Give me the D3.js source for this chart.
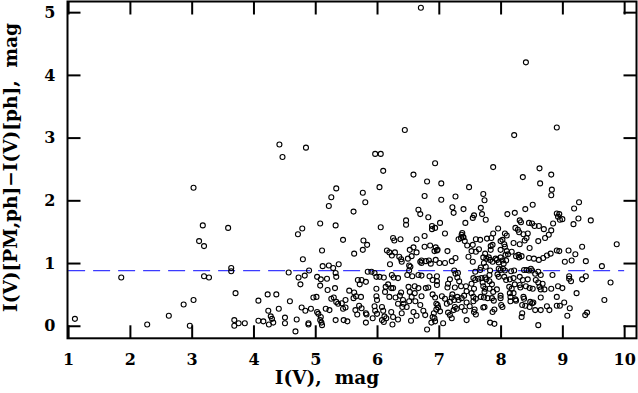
<!DOCTYPE html>
<html><head><meta charset="utf-8">
<script src="https://cdn.jsdelivr.net/npm/d3@7"></script>
<style>body{margin:0;background:#fff}svg{display:block}</style>
</head><body>
<script>
// ---- data (I(V) mag, delta mag) ----
const ptsBright = [[1.11,0.11],[1.86,0.77],[2.28,0.02],[2.63,0.16],[2.87,0.34],[2.97,0.0],[3.03,0.41],[3.03,2.20],[3.18,1.60],[3.12,1.35],[3.20,1.27],[3.20,0.79],[3.28,0.77],[3.59,1.56],[3.64,0.92],[3.64,0.87],[3.71,0.52],[3.69,0.09],[3.69,0.0],[3.76,0.04],[3.86,0.04]];
const ptsMag4to5 = [[5.26,2.05],[5.22,1.91],[5.08,1.63],[4.72,1.46],[4.79,1.55],[4.80,1.06],[5.11,1.20],[4.57,0.85],[4.73,0.77],[4.83,0.80],[4.76,0.66],[4.90,0.88],[5.03,0.78],[5.09,0.74],[5.12,0.95],[5.22,0.96],[5.08,0.64],[5.19,0.75],[4.08,0.40],[4.23,0.50],[4.37,0.50],[4.24,0.24],[4.41,0.27],[4.59,0.39],[4.08,0.08],[4.16,0.07],[4.28,0.15],[4.30,0.11],[4.25,0.02],[4.32,0.05],[4.51,0.13],[4.51,0.04],[4.70,0.10],[4.68,-0.09],[4.78,0.29],[4.84,0.24],[4.93,0.27],[4.89,0.04],[4.89,0.02],[4.97,0.45],[5.02,0.46],[5.05,0.19],[5.03,0.22],[5.08,0.09],[5.11,0.01],[5.10,0.05],[5.20,0.57],[5.26,0.43],[5.17,0.27],[5.09,0.14],[5.23,0.25]];
const ptsMag5to6 = [[6.10,2.47],[5.34,2.19],[5.77,2.12],[6.04,2.21],[5.81,1.97],[5.62,1.82],[5.33,1.60],[6.06,1.57],[5.45,1.37],[5.78,1.36],[5.84,1.29],[5.77,1.21],[5.63,1.15],[6.26,1.40],[6.28,1.36],[6.38,1.38],[6.16,1.20],[6.20,1.17],[6.29,1.17],[6.24,1.12],[6.36,1.10],[6.39,1.06],[6.40,1.02],[6.21,0.98],[5.38,0.98],[5.29,0.92],[5.33,0.84],[5.34,0.78],[5.85,0.86],[5.91,0.86],[5.96,0.84],[5.99,0.78],[5.69,0.73],[5.75,0.73],[5.72,0.66],[5.82,0.70],[6.04,0.78],[6.11,0.77],[6.24,0.81],[6.27,0.77],[6.34,0.76],[6.14,0.62],[6.18,0.66],[6.23,0.60],[6.26,0.60],[6.13,0.54],[5.99,0.59],[5.99,0.47],[6.00,0.41],[6.20,0.46],[6.30,0.45],[6.37,0.48],[6.39,0.53],[6.42,0.41],[5.32,0.60],[5.55,0.56],[5.63,0.53],[5.30,0.45],[5.34,0.38],[5.37,0.35],[5.43,0.36],[5.49,0.41],[5.49,0.29],[5.45,0.27],[5.62,0.44],[5.66,0.47],[5.74,0.46],[5.65,0.25],[5.68,0.18],[5.71,0.32],[5.75,0.28],[5.82,0.20],[5.82,0.05],[5.83,0.18],[5.93,0.12],[5.96,0.31],[5.97,0.24],[6.00,0.19],[6.08,0.30],[6.10,0.24],[6.12,0.15],[6.08,0.09],[6.11,0.06],[6.15,0.12],[6.23,0.22],[6.26,0.14],[6.25,0.02],[6.34,0.10],[6.34,0.35],[6.40,0.20],[6.41,0.30],[6.43,0.35],[5.33,0.09],[5.46,0.09],[5.52,0.07]];
const ptsMag6to7 = [[6.59,2.41],[6.81,2.30],[7.04,2.27],[7.49,2.21],[6.77,2.07],[7.04,2.01],[7.27,2.06],[7.22,1.89],[7.24,1.80],[7.40,1.86],[6.67,1.85],[6.70,1.78],[6.83,1.73],[7.57,1.76],[7.55,1.72],[7.02,1.64],[6.89,1.59],[6.89,1.54],[6.94,1.56],[6.47,1.68],[6.47,1.61],[7.43,1.64],[7.10,1.47],[6.77,1.43],[6.64,1.38],[7.37,1.45],[7.39,1.42],[7.40,1.41],[7.38,1.48],[7.36,1.40],[7.32,1.38],[7.42,1.35],[7.46,1.28],[7.60,1.38],[7.55,1.29],[6.95,1.25],[6.98,1.21],[6.93,1.19],[6.97,1.20],[6.86,1.28],[6.77,1.26],[7.14,1.19],[6.53,1.21],[6.59,1.25],[6.64,1.17],[7.53,1.19],[7.65,1.22],[7.60,1.18],[7.48,1.10],[7.55,1.02],[7.27,1.08],[7.21,1.03],[6.56,1.11],[6.50,1.07],[6.72,1.00],[6.72,1.04],[6.70,1.02],[6.84,1.04],[6.79,1.03],[6.87,0.99],[6.95,1.05],[7.01,1.00],[7.10,1.00],[6.52,0.96],[6.54,0.94],[7.25,0.88],[7.27,0.83],[7.31,0.84],[7.30,0.77],[7.33,0.71],[7.67,0.89],[7.59,0.86],[7.64,0.75],[7.56,0.76],[7.59,0.73],[7.53,0.67],[6.52,0.88],[6.49,0.81],[6.57,0.79],[6.67,0.81],[6.72,0.80],[6.85,0.79],[6.97,0.79],[6.90,0.73],[6.97,0.71],[6.97,0.65],[7.18,0.74],[7.15,0.67],[7.14,0.61],[7.26,0.61],[7.22,0.50],[7.36,0.63],[7.44,0.63],[7.45,0.55],[7.41,0.48],[7.53,0.52],[7.57,0.59],[7.56,0.46],[7.60,0.43],[6.61,0.63],[6.67,0.60],[6.51,0.62],[6.53,0.54],[6.61,0.52],[6.56,0.46],[6.52,0.39],[6.48,0.30],[6.62,0.39],[6.72,0.47],[6.83,0.61],[6.79,0.60],[6.90,0.50],[6.94,0.45],[6.96,0.35],[6.98,0.33],[6.99,0.29],[6.96,0.26],[7.02,0.23],[6.92,0.20],[6.90,0.14],[6.93,0.12],[6.94,0.07],[6.88,0.05],[7.05,0.47],[7.10,0.43],[7.13,0.35],[7.21,0.45],[7.25,0.41],[7.18,0.38],[7.30,0.46],[7.32,0.41],[7.37,0.44],[7.26,0.30],[7.29,0.27],[7.24,0.25],[7.37,0.30],[7.42,0.24],[7.45,0.37],[7.50,0.31],[7.56,0.39],[7.58,0.26],[7.57,0.22],[7.15,0.21],[7.18,0.17],[7.21,0.12],[7.45,0.09],[7.60,0.18],[6.78,0.17],[6.75,0.24],[6.70,0.33],[6.59,0.22],[6.64,0.16],[6.55,0.08],[6.81,-0.06],[7.07,0.04]];
const ptsMag7to9 = [[8.36,2.37],[8.82,2.41],[8.64,2.27],[8.83,2.17],[8.82,2.08],[7.72,2.10],[7.74,2.00],[8.52,1.93],[8.40,1.86],[7.68,1.88],[7.70,1.78],[7.76,1.69],[8.11,1.78],[8.23,1.80],[8.31,1.68],[8.33,1.65],[8.46,1.64],[8.51,1.63],[8.55,1.59],[8.62,1.59],[8.70,1.54],[8.85,1.63],[8.82,1.52],[8.78,1.45],[8.72,1.40],[8.61,1.35],[8.24,1.56],[8.28,1.53],[7.96,1.55],[7.88,1.47],[8.07,1.47],[8.10,1.44],[8.30,1.49],[8.37,1.46],[8.42,1.40],[8.44,1.47],[8.39,1.36],[8.31,1.30],[8.21,1.32],[7.85,1.40],[7.78,1.39],[7.67,1.37],[8.00,1.35],[8.03,1.37],[8.06,1.30],[7.87,1.29],[7.84,1.27],[7.84,1.21],[8.00,1.21],[8.07,1.26],[8.10,1.19],[8.08,1.13],[8.12,1.14],[8.18,1.18],[8.25,1.11],[8.29,1.13],[8.34,1.11],[8.30,1.09],[8.47,1.24],[8.46,1.08],[8.54,1.07],[8.62,1.05],[8.69,1.08],[8.75,1.12],[8.81,1.15],[7.75,1.15],[7.72,1.09],[7.77,1.07],[7.73,1.00],[7.81,1.09],[7.83,1.05],[7.87,1.02],[7.92,1.07],[7.94,1.05],[7.97,1.01],[8.00,1.09],[8.03,1.04],[8.05,0.99],[8.09,1.04],[7.68,0.93],[7.76,0.94],[7.83,0.88],[7.82,0.81],[7.75,0.77],[7.77,0.74],[7.69,0.76],[7.71,0.69],[7.82,0.71],[7.86,0.66],[7.97,0.91],[8.00,0.89],[8.04,0.91],[8.07,0.88],[8.17,0.87],[8.22,0.88],[8.38,0.89],[8.42,0.89],[8.46,0.88],[8.51,0.88],[8.49,0.91],[8.56,0.83],[8.61,0.86],[8.65,0.81],[8.84,0.81],[7.95,0.82],[7.97,0.78],[8.06,0.78],[8.09,0.73],[8.15,0.74],[8.21,0.76],[8.31,0.78],[8.36,0.73],[8.44,0.74],[8.57,0.73],[8.61,0.69],[8.63,0.62],[8.68,0.67],[8.65,0.58],[8.71,0.58],[8.82,0.59],[8.23,0.66],[8.31,0.65],[8.32,0.61],[8.41,0.63],[8.47,0.60],[8.52,0.59],[7.72,0.63],[7.75,0.59],[7.74,0.54],[7.82,0.59],[7.88,0.54],[7.94,0.58],[8.00,0.48],[8.00,0.44],[8.14,0.62],[8.18,0.59],[8.21,0.52],[8.15,0.52],[8.16,0.46],[8.24,0.42],[8.25,0.40],[8.16,0.39],[7.68,0.46],[7.73,0.45],[7.79,0.44],[7.74,0.30],[7.72,0.29],[7.86,0.44],[7.89,0.40],[8.01,0.33],[8.03,0.30],[7.90,0.26],[7.87,0.22],[7.83,0.05],[7.90,0.03],[8.37,0.46],[8.38,0.43],[8.48,0.38],[8.51,0.36],[8.35,0.33],[8.40,0.32],[8.47,0.30],[8.53,0.37],[8.65,0.45],[8.56,0.25],[8.65,0.25],[8.75,0.31],[8.79,0.25],[8.35,0.20],[8.34,0.14],[8.61,0.01]];
const ptsFaint = [[9.27,1.97],[9.19,1.87],[8.91,1.79],[8.95,1.78],[8.93,1.74],[9.00,1.70],[8.96,1.69],[9.26,1.71],[9.18,1.62],[9.46,1.68],[9.88,1.30],[9.32,1.26],[9.10,1.20],[8.91,1.20],[8.95,1.19],[9.21,1.14],[9.15,1.04],[9.04,1.02],[9.38,1.03],[9.64,0.95],[9.78,0.69],[9.11,0.79],[9.11,0.75],[9.14,0.71],[9.38,0.79],[9.32,0.74],[8.93,0.63],[9.00,0.60],[9.23,0.52],[8.91,0.46],[9.68,0.41],[9.03,0.37],[8.91,0.32],[8.96,0.32],[9.12,0.28],[9.40,0.21],[9.37,0.17],[9.08,0.16]];
const ptsOutliers = [[6.71,5.07],[8.41,4.20],[6.45,3.12],[8.91,3.16],[8.22,3.04],[4.42,2.89],[4.47,2.69],[4.85,2.84],[5.97,2.74],[6.06,2.74],[6.94,2.59],[7.88,2.53],[8.63,2.51]];
const meanOffset = 0.88;
const dashRange = [1, 10];
const xTicks = [1,2,3,4,5,6,7,8,9,10];
const yTicks = [0,1,2,3,4,5];
const xTitle = "I(V),\u00a0 mag";
const yTitle = "I(V)[PM,ph]\u2212I(V)[ph],\u00a0 mag";

const allPts = [].concat(ptsBright, ptsMag4to5, ptsMag5to6, ptsMag6to7, ptsMag7to9, ptsFaint, ptsOutliers);

const W = 638, H = 393;
const L = 67.5, R = 636.5, T = 1.5, B = 338.3;
const svg = d3.select("body").append("svg").attr("width", W).attr("height", H);
const x = d3.scaleLinear().domain([0.99, 10.2]).range([L, R]);
const y = d3.scaleLinear().domain([-0.2, 5.17]).range([B, T]);
const font = "'DejaVu Serif', serif";

// dashed mean line
svg.append("path")
  .attr("d", d3.line()([[x(dashRange[0]), y(meanOffset)], [x(dashRange[1]), y(meanOffset)]]))
  .attr("stroke", "#3b3bff").attr("stroke-width", 1.3).attr("stroke-dasharray", "17,8").attr("fill", "none");

// points
svg.append("g").selectAll("circle").data(allPts).join("circle")
  .attr("cx", d => x(d[0])).attr("cy", d => y(d[1])).attr("r", 2.5)
  .attr("fill", "none").attr("stroke", "#000").attr("stroke-width", 1.1);

// axes
function styleAxis(g) {
  g.select(".domain").remove();
  g.selectAll(".tick line").attr("stroke", "#000").attr("stroke-width", 2);
  g.selectAll("text").attr("font-family", font).attr("font-weight", "bold").attr("font-size", 16).attr("fill", "#000");
}
svg.append("g").attr("transform", `translate(0,${B})`)
  .call(d3.axisBottom(x).tickValues(xTicks).tickSize(-13).tickPadding(15).tickFormat(d3.format("d"))).call(styleAxis);
svg.append("g").attr("transform", `translate(0,${T})`)
  .call(d3.axisTop(x).tickValues(xTicks).tickSize(-13).tickFormat("")).call(styleAxis);
svg.append("g").attr("transform", `translate(${L},0)`)
  .call(d3.axisLeft(y).tickValues(yTicks).tickSize(-13).tickPadding(12).tickFormat(d3.format("d"))).call(styleAxis);
svg.append("g").attr("transform", `translate(${R},0)`)
  .call(d3.axisRight(y).tickValues(yTicks).tickSize(-13).tickFormat("")).call(styleAxis);

// frame
svg.append("rect").attr("x", L).attr("y", T).attr("width", R - L).attr("height", B - T)
  .attr("fill", "none").attr("stroke", "#000").attr("stroke-width", 2);

// titles
svg.append("text").attr("x", 327).attr("y", 384).attr("text-anchor", "middle")
  .attr("font-family", font).attr("font-weight", "bold").attr("font-size", 18.5).text(xTitle);
svg.append("text").attr("transform", "translate(17,167.5) rotate(-90)").attr("text-anchor", "middle")
  .attr("font-family", font).attr("font-weight", "bold").attr("font-size", 18.5).text(yTitle);
</script>
</body></html>
